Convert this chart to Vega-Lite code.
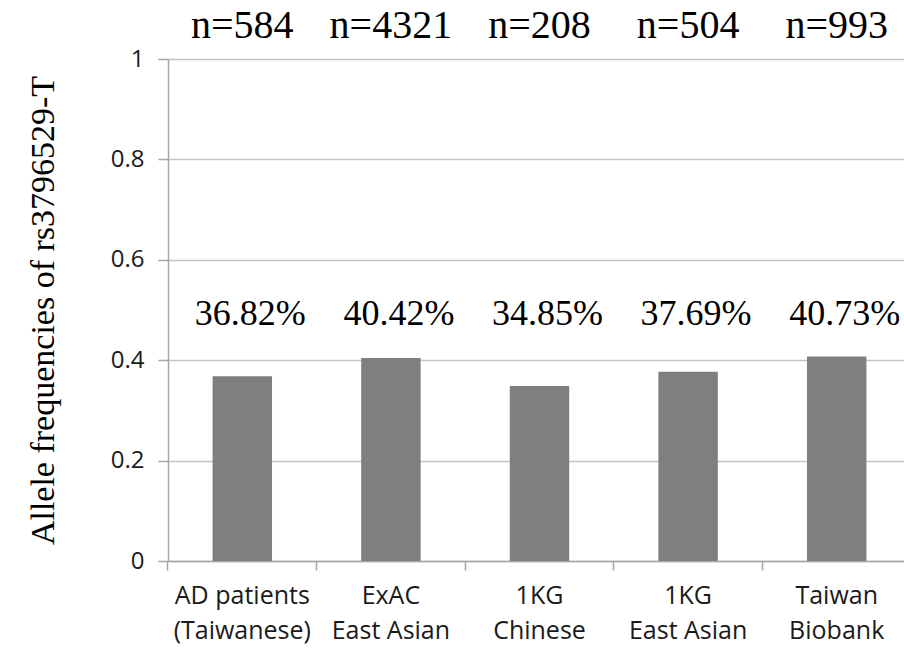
{
  "$schema": "https://vega.github.io/schema/vega-lite/v6.json",
  "width": 736,
  "height": 502,
  "autosize": "none",
  "padding": {"left": 168, "top": 59, "right": 0, "bottom": 87},
  "background": "white",
  "config": {"view": {"stroke": null}},
  "data": {
    "values": [
      {"group": "AD patients|(Taiwanese)", "freq": 0.3682, "pct": "36.82%", "n": "n=584"},
      {"group": "ExAC|East Asian", "freq": 0.4042, "pct": "40.42%", "n": "n=4321"},
      {"group": "1KG|Chinese", "freq": 0.3485, "pct": "34.85%", "n": "n=208"},
      {"group": "1KG |East Asian", "freq": 0.3769, "pct": "37.69%", "n": "n=504"},
      {"group": "Taiwan|Biobank", "freq": 0.4073, "pct": "40.73%", "n": "n=993"}
    ]
  },
  "resolve": {"axis": {"x": "independent"}},
  "layer": [
    {
      "mark": {"type": "bar", "color": "#7f7f7f"},
      "encoding": {
        "x": {
          "field": "group",
          "type": "nominal",
          "sort": null,
          "scale": {"range": [0, 743], "paddingInner": 0.6, "paddingOuter": 0.3},
          "axis": {
            "orient": "bottom",
            "title": null,
            "labelAngle": 0,
            "ticks": false,
            "domain": true,
            "domainColor": "#a6a6a6",
            "domainWidth": 1.5,
            "labelExpr": "split(datum.label, '|')",
            "labelFont": "Open Sans",
            "labelFontSize": 25,
            "labelColor": "#1a1a1a",
            "labelLineHeight": 35,
            "labelPadding": 22
          }
        },
        "y": {
          "field": "freq",
          "type": "quantitative",
          "scale": {"domain": [0, 1]},
          "axis": {
            "values": [0, 0.2, 0.4, 0.6, 0.8, 1],
            "format": "~g",
            "grid": true,
            "gridColor": "#c4c4c4",
            "gridWidth": 1.5,
            "domainColor": "#a6a6a6",
            "domainWidth": 1.5,
            "tickColor": "#a6a6a6",
            "tickSize": 10,
            "tickWidth": 1.5,
            "labelFont": "Open Sans",
            "labelFontSize": 24,
            "labelColor": "#1a1a1a",
            "labelPadding": 14,
            "title": "Allele frequencies of rs3796529-T",
            "titleFont": "Liberation Serif",
            "titleFontSize": 34,
            "titleFontWeight": "normal",
            "titleColor": "#000000",
            "titlePadding": 50
          }
        }
      }
    },
    {
      "mark": {"type": "text", "font": "Liberation Serif", "fontSize": 36, "color": "#000000", "baseline": "alphabetic", "dx": 8},
      "encoding": {
        "x": {"field": "group", "type": "nominal", "sort": null, "axis": null},
        "y": {"datum": 0.47},
        "text": {"field": "pct"}
      }
    },
    {
      "mark": {"type": "text", "font": "Liberation Serif", "fontSize": 40, "color": "#000000", "baseline": "alphabetic"},
      "encoding": {
        "x": {
          "field": "group",
          "type": "nominal",
          "sort": null,
          "axis": {
            "orient": "bottom",
            "title": null,
            "labels": false,
            "domain": false,
            "grid": false,
            "ticks": true,
            "tickSize": 9,
            "tickWidth": 1.5,
            "tickColor": "#a6a6a6",
            "bandPosition": -0.75
          }
        },
        "y": {"datum": 1.042},
        "text": {"field": "n"}
      }
    }
  ]
}
